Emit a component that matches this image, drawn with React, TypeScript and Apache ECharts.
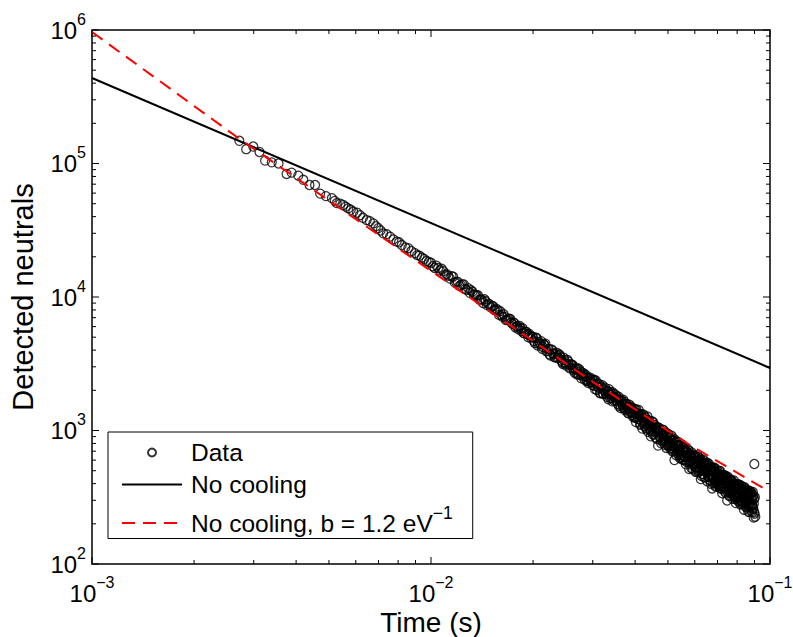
import React, { useEffect, useRef } from "react";
import * as echarts from "echarts";

const FONT = '"Liberation Sans", Arial, Helvetica, sans-serif';

// ---- Data (time in ms, detected neutrals) ----
const earlyTimesMs = [
  2.72, 2.85, 2.99, 3.12, 3.24, 3.39, 3.55, 3.75, 3.88, 4.06,
  4.2, 4.38, 4.55, 4.71, 4.9, 5.1, 5.2, 5.27, 5.4, 5.51,
  5.6, 5.7, 5.8, 5.9, 6.05, 6.17, 6.3, 6.46, 6.6, 6.76,
  6.88, 6.99, 7.1, 7.23, 7.4, 7.57, 7.75, 7.92, 8.05, 8.2,
  8.4, 8.57, 8.75, 8.97, 9.1, 9.25, 9.4, 9.55, 9.7, 9.85,
];
const earlyCounts = [
  148000, 128000, 134000, 122000, 105000, 102000, 100000, 83500, 85500, 81000,
  75500, 69000, 69000, 59500, 57000, 55000, 52500, 50500, 50000, 48900,
  47500, 46100, 45000, 43500, 42800, 41000, 39200, 37700, 37000, 35600,
  33900, 32800, 31500, 30000, 29600, 28300, 27000, 26000, 25700, 24500,
  23500, 23200, 22100, 21300, 20600, 20400, 19700, 19300, 18600, 18300,
];

const band10TimesMs = [
  10, 10.25, 10.5, 10.75, 11, 11.25, 11.5, 11.75, 12, 12.25, 12.5, 12.75,
  13, 13.25, 13.5, 13.75, 14, 14.25, 14.5, 14.75, 15, 15.25, 15.5, 15.75,
  16, 16.25, 16.5, 16.75, 17, 17.25, 17.5, 17.75, 18, 18.25, 18.5, 18.75,
  19, 19.25, 19.5, 19.75,
];
const band10Counts = [
  18054, 16505, 16493, 16271, 14661, 14429, 14315, 12831, 12963, 12274, 12438, 11293,
  10753, 10949, 10382, 10331, 9581, 9015, 9286, 8905, 8359, 8526, 7946, 7928,
  7822, 7093, 7103, 6756, 6886, 6444, 6460, 5910, 6040, 6064, 5567, 5366,
  5490, 5254, 5280, 4898,
];
const band10bTimesMs = [
  10.125, 10.375, 10.625, 10.875, 11.125, 11.375, 11.625, 11.875, 12.125, 12.375, 12.625, 12.875,
  13.125, 13.375, 13.625, 13.875, 14.125, 14.375, 14.625, 14.875, 15.125, 15.375, 15.625, 15.875,
  16.125, 16.375, 16.625, 16.875, 17.125, 17.375, 17.625, 17.875, 18.125, 18.375, 18.625, 18.875,
  19.125, 19.375, 19.625, 19.875,
];
const band10bCounts = [
  17011, 17173, 15828, 15609, 14841, 13738, 14177, 12970, 12111, 12423, 11507, 11644,
  11237, 10452, 10308, 9558, 9535, 9618, 8692, 8847, 8572, 7989, 8136, 7341,
  7343, 7424, 6719, 6857, 6861, 6293, 6369, 6007, 5728, 5814, 5830, 5348,
  5478, 4982, 5113, 5033,
];

const band20TimesMs = [
  20, 20.25, 20.5, 20.75, 21, 21.25, 21.5, 21.75, 22, 22.25, 22.5, 22.75,
  23, 23.25, 23.5, 23.75, 24, 24.25, 24.5, 24.75, 25, 25.25, 25.5, 25.75,
  26, 26.25, 26.5, 26.75, 27, 27.25, 27.5, 27.75, 28, 28.25, 28.5, 28.75,
  29, 29.25, 29.5, 29.75,
];
const band20Counts = [
  5016, 4527, 4940, 4464, 4495, 4097, 4438, 4467, 3961, 4083, 3647, 4034,
  3761, 3542, 3835, 3512, 3649, 3344, 3148, 3384, 3061, 3385, 3137, 2956,
  3109, 2908, 2712, 2890, 2948, 2625, 2768, 2455, 2541, 2679, 2534, 2344,
  2498, 2315, 2490, 2311,
];
const band20bTimesMs = [
  20.125, 20.375, 20.625, 20.875, 21.125, 21.375, 21.625, 21.875, 22.125, 22.375, 22.625, 22.875,
  23.125, 23.375, 23.625, 23.875, 24.125, 24.375, 24.625, 24.875, 25.125, 25.375, 25.625, 25.875,
  26.125, 26.375, 26.625, 26.875, 27.125, 27.375, 27.625, 27.875, 28.125, 28.375, 28.625, 28.875,
  29.125, 29.375, 29.625, 29.875,
];
const band20bCounts = [
  4673, 4949, 4332, 4593, 4668, 4226, 4348, 3923, 4083, 3724, 4037, 3763,
  3539, 3727, 3475, 3722, 3546, 3245, 3516, 3189, 3161, 3292, 2922, 3109,
  3111, 2824, 2916, 2639, 2648, 2874, 2611, 2722, 2623, 2404, 2612, 2373,
  2262, 2439, 2307, 2407,
];

const band30TimesMs = [
  30, 30.25, 30.5, 30.75, 31, 31.25, 31.5, 31.75, 32, 32.25, 32.5, 32.75,
  33, 33.25, 33.5, 33.75, 34, 34.25, 34.5, 34.75, 35, 35.25, 35.5, 35.75,
  36, 36.25, 36.5, 36.75, 37, 37.25, 37.5, 37.75, 38, 38.25, 38.5, 38.75,
  39, 39.25, 39.5, 39.75,
];
const band30Counts = [
  2182, 2398, 2032, 2221, 2252, 2095, 1898, 2139, 2189, 1880, 1994, 1889,
  1786, 1952, 2039, 1754, 1857, 1654, 1883, 1771, 1695, 1792, 1583, 1793,
  1702, 1471, 1642, 1557, 1473, 1638, 1466, 1580, 1486, 1351, 1564, 1359,
  1482, 1353, 1255, 1387,
];
const band30bTimesMs = [
  30.125, 30.375, 30.625, 30.875, 31.125, 31.375, 31.625, 31.875, 32.125, 32.375, 32.625, 32.875,
  33.125, 33.375, 33.625, 33.875, 34.125, 34.375, 34.625, 34.875, 35.125, 35.375, 35.625, 35.875,
  36.125, 36.375, 36.625, 36.875, 37.125, 37.375, 37.625, 37.875, 38.125, 38.375, 38.625, 38.875,
  39.125, 39.375, 39.625, 39.875,
];
const band30bCounts = [
  2370, 2158, 2368, 2010, 2109, 2227, 1905, 2103, 1893, 2027, 2097, 1856,
  1984, 1714, 1877, 1943, 1756, 1930, 1676, 1776, 1838, 1661, 1722, 1517,
  1545, 1701, 1567, 1703, 1572, 1415, 1576, 1437, 1345, 1502, 1397, 1505,
  1432, 1304, 1464, 1259,
];

const band40TimesMs = [
  40, 40.25, 40.5, 40.75, 41, 41.25, 41.5, 41.75, 42, 42.25, 42.5, 42.75,
  43, 43.25, 43.5, 43.75, 44, 44.25, 44.5, 44.75, 45, 45.25, 45.5, 45.75,
  46, 46.25, 46.5, 46.75, 47, 47.25, 47.5, 47.75, 48, 48.25, 48.5, 48.75,
  49, 49.25, 49.5, 49.75, 50, 50.25, 50.5, 50.75, 51, 51.25, 51.5, 51.75,
  52, 52.25, 52.5, 52.75, 53, 53.25, 53.5, 53.75, 54, 54.25, 54.5, 54.75,
  55, 55.25, 55.5, 55.75, 56, 56.25, 56.5, 56.75, 57, 57.25, 57.5, 57.75,
  58, 58.25, 58.5, 58.75, 59, 59.25, 59.5, 59.75,
];
const band40Counts = [
  1436, 1155, 1336, 1216, 1427, 1223, 1121, 1290, 1033, 1234, 1301, 1077,
  1166, 1017, 1273, 1070, 1188, 1013, 905, 1106, 1030, 1152, 937, 1036,
  886, 1053, 984, 770, 1047, 904, 988, 802, 948, 822, 1009, 866,
  813, 962, 740, 895, 946, 811, 886, 737, 770, 914, 699, 802,
  840, 601, 786, 831, 680, 777, 703, 819, 724, 618, 767, 655,
  787, 629, 705, 598, 646, 726, 557, 688, 688, 632, 708, 514,
  559, 647, 580, 684, 618, 512, 643, 573,
];
const band40bTimesMs = [
  40.125, 40.375, 40.625, 40.875, 41.125, 41.375, 41.625, 41.875, 42.125, 42.375, 42.625, 42.875,
  43.125, 43.375, 43.625, 43.875, 44.125, 44.375, 44.625, 44.875, 45.125, 45.375, 45.625, 45.875,
  46.125, 46.375, 46.625, 46.875, 47.125, 47.375, 47.625, 47.875, 48.125, 48.375, 48.625, 48.875,
  49.125, 49.375, 49.625, 49.875, 50.125, 50.375, 50.625, 50.875, 51.125, 51.375, 51.625, 51.875,
  52.125, 52.375, 52.625, 52.875, 53.125, 53.375, 53.625, 53.875, 54.125, 54.375, 54.625, 54.875,
  55.125, 55.375, 55.625, 55.875, 56.125, 56.375, 56.625, 56.875, 57.125, 57.375, 57.625, 57.875,
  58.125, 58.375, 58.625, 58.875, 59.125, 59.375, 59.625, 59.875,
];
const band40bCounts = [
  1243, 1436, 1262, 1335, 1293, 1104, 1322, 1161, 1325, 1120, 1153, 1254,
  1045, 1190, 977, 1119, 1138, 1082, 985, 1172, 931, 1064, 1103, 971,
  1059, 862, 987, 1053, 909, 1012, 844, 926, 1016, 844, 915, 782,
  879, 837, 942, 781, 765, 882, 790, 904, 838, 718, 845, 766,
  720, 858, 736, 653, 817, 729, 772, 656, 700, 764, 623, 721,
  605, 701, 749, 636, 703, 604, 659, 581, 634, 718, 591, 655,
  674, 588, 523, 615, 562, 652, 570, 624,
];

const band60TimesMs = [
  60, 60.25, 60.5, 60.75, 61, 61.25, 61.5, 61.75, 62, 62.25, 62.5, 62.75,
  63, 63.25, 63.5, 63.75, 64, 64.25, 64.5, 64.75, 65, 65.25, 65.5, 65.75,
  66, 66.25, 66.5, 66.75, 67, 67.25, 67.5, 67.75, 68, 68.25, 68.5, 68.75,
  69, 69.25, 69.5, 69.75, 70, 70.25, 70.5, 70.75, 71, 71.25, 71.5, 71.75,
  72, 72.25, 72.5, 72.75, 73, 73.25, 73.5, 73.75, 74, 74.25, 74.5, 74.75,
  75, 75.25, 75.5, 75.75, 76, 76.25, 76.5, 76.75, 77, 77.25, 77.5, 77.75,
  78, 78.25, 78.5, 78.75, 79, 79.25, 79.5, 79.75, 80, 80.25, 80.5, 80.75,
  81, 81.25, 81.5, 81.75, 82, 82.25, 82.5, 82.75, 83, 83.25, 83.5, 83.75,
  84, 84.25, 84.5, 84.75, 85, 85.25, 85.5, 85.75, 86, 86.25, 86.5, 86.75,
  87, 87.25, 87.5, 87.75, 88, 88.25, 88.5, 88.75, 89, 89.25, 89.5, 89.75,
  90, 90.25, 90.5, 89.9,
];
const band60Counts = [
  644, 490, 595, 528, 654, 543, 489, 596, 499, 615, 432, 548,
  565, 472, 605, 502, 446, 562, 502, 570, 520, 417, 548, 465,
  561, 450, 423, 506, 469, 528, 368, 502, 508, 440, 529, 402,
  381, 469, 452, 406, 501, 396, 464, 422, 376, 498, 396, 437,
  455, 339, 466, 397, 378, 429, 349, 461, 409, 355, 432, 299,
  450, 366, 383, 412, 326, 419, 345, 392, 420, 362, 308, 391,
  341, 423, 319, 365, 391, 286, 373, 319, 338, 396, 296, 375,
  393, 316, 349, 279, 301, 357, 385, 317, 345, 284, 361, 255,
  377, 305, 283, 343, 290, 353, 265, 324, 354, 246, 329, 297,
  267, 330, 350, 273, 331, 249, 307, 276, 346, 260, 223, 307,
  238, 316, 226, 561,
];
const band60bTimesMs = [
  60.125, 60.375, 60.625, 60.875, 61.125, 61.375, 61.625, 61.875, 62.125, 62.375, 62.625, 62.875,
  63.125, 63.375, 63.625, 63.875, 64.125, 64.375, 64.625, 64.875, 65.125, 65.375, 65.625, 65.875,
  66.125, 66.375, 66.625, 66.875, 67.125, 67.375, 67.625, 67.875, 68.125, 68.375, 68.625, 68.875,
  69.125, 69.375, 69.625, 69.875, 70.125, 70.375, 70.625, 70.875, 71.125, 71.375, 71.625, 71.875,
  72.125, 72.375, 72.625, 72.875, 73.125, 73.375, 73.625, 73.875, 74.125, 74.375, 74.625, 74.875,
  75.125, 75.375, 75.625, 75.875, 76.125, 76.375, 76.625, 76.875, 77.125, 77.375, 77.625, 77.875,
  78.125, 78.375, 78.625, 78.875, 79.125, 79.375, 79.625, 79.875, 80.125, 80.375, 80.625, 80.875,
  81.125, 81.375, 81.625, 81.875, 82.125, 82.375, 82.625, 82.875, 83.125, 83.375, 83.625, 83.875,
  84.125, 84.375, 84.625, 84.875, 85.125, 85.375, 85.625, 85.875, 86.125, 86.375, 86.625, 86.875,
  87.125, 87.375, 87.625, 87.875, 88.125, 88.375, 88.625, 88.875, 89.125, 89.375, 89.625, 89.875,
];
const band60bCounts = [
  532, 643, 490, 583, 590, 502, 632, 517, 601, 526, 571, 455,
  473, 570, 498, 589, 553, 447, 566, 502, 483, 575, 452, 524,
  500, 429, 528, 399, 529, 441, 490, 402, 441, 521, 413, 492,
  516, 441, 380, 466, 415, 479, 384, 498, 465, 368, 438, 384,
  365, 446, 398, 461, 451, 374, 458, 394, 340, 413, 367, 435,
  413, 345, 440, 323, 371, 426, 348, 395, 423, 353, 377, 324,
  329, 393, 308, 396, 372, 310, 398, 332, 390, 318, 365, 298,
  320, 393, 303, 349, 367, 282, 357, 323, 291, 345, 302, 372,
  334, 291, 363, 266, 273, 339, 299, 345, 337, 277, 355, 246,
  288, 342, 264, 314, 342, 275, 244, 315, 266, 326, 283, 244,
];

// Model curves (time in s, neutrals)
const noCoolingTimes = [0.001, 0.1];
const noCoolingCounts = [437000, 2938];
const slowCoolingTimes = [0.001, 0.0027, 0.01, 0.02944, 0.05808, 0.1];
const slowCoolingCounts = [966000, 155300, 15660, 2388, 778, 346];

// Axis ticks
const xMajorTicks = [0.001, 0.01, 0.1];
const xMinorTicks = [
  0.002, 0.003, 0.004, 0.005, 0.006, 0.007, 0.008, 0.009,
  0.02, 0.03, 0.04, 0.05, 0.06, 0.07, 0.08, 0.09,
];
const yMajorTicks = [1e2, 1e3, 1e4, 1e5, 1e6];
const yMinorTicks = [
  200, 300, 400, 500, 600, 700, 800, 900,
  2000, 3000, 4000, 5000, 6000, 7000, 8000, 9000,
  20000, 30000, 40000, 50000, 60000, 70000, 80000, 90000,
  200000, 300000, 400000, 500000, 600000, 700000, 800000, 900000,
];

const legendNames = ["Data", "No cooling", "No cooling, b = 1.2 eV^-1"];

function zip(ts: number[], ns: number[]): number[][] {
  return ts.map((t, i) => [t / 1000, ns[i]]);
}

function expLabel(v: number): string {
  const e = Math.round(Math.log10(v));
  const s = e < 0 ? "\u2212" + Math.abs(e) : String(e);
  return `{b|10}{s|${s}}`;
}

const labelRich = {
  b: { fontSize: 24, lineHeight: 38, verticalAlign: "middle", color: "#000", fontFamily: FONT },
  s: { fontSize: 16, lineHeight: 16, verticalAlign: "top", color: "#000", fontFamily: FONT },
};

function tickSeries(values: number[], axis: "x" | "y", len: number) {
  return {
    type: "custom",
    silent: true,
    z: 6,
    clip: false,
    data: values.map((v) => (axis === "x" ? [v, 1000] : [0.01, v])),
    encode: { x: 0, y: 1 },
    renderItem: (params: any, api: any) => {
      const cs = params.coordSys;
      const style = { stroke: "#000", lineWidth: 1 };
      if (axis === "x") {
        const px = api.coord([api.value(0), 1000])[0];
        const b = cs.y + cs.height;
        const t = cs.y;
        return {
          type: "group",
          children: [
            { type: "line", shape: { x1: px, y1: b, x2: px, y2: b - len }, style },
            { type: "line", shape: { x1: px, y1: t, x2: px, y2: t + len }, style },
          ],
        };
      }
      const py = api.coord([0.01, api.value(1)])[1];
      const l = cs.x;
      const r = cs.x + cs.width;
      return {
        type: "group",
        children: [
          { type: "line", shape: { x1: l, y1: py, x2: l + len, y2: py }, style },
          { type: "line", shape: { x1: r, y1: py, x2: r - len, y2: py }, style },
        ],
      };
    },
  };
}

export default function App() {
  const ref = useRef<HTMLDivElement>(null);

  useEffect(() => {
    if (!ref.current) return;
    const chart = echarts.init(ref.current, undefined, { renderer: "svg" });

    const dataPoints = [
      ...zip(earlyTimesMs, earlyCounts),
      ...zip(band10TimesMs, band10Counts),
      ...zip(band10bTimesMs, band10bCounts),
      ...zip(band20TimesMs, band20Counts),
      ...zip(band20bTimesMs, band20bCounts),
      ...zip(band30TimesMs, band30Counts),
      ...zip(band30bTimesMs, band30bCounts),
      ...zip(band40TimesMs, band40Counts),
      ...zip(band40bTimesMs, band40bCounts),
      ...zip(band60TimesMs, band60Counts),
      ...zip(band60bTimesMs, band60bCounts),
    ];
    const noCooling = noCoolingTimes.map((t, i) => [t, noCoolingCounts[i]]);
    const slowCooling = slowCoolingTimes.map((t, i) => [t, slowCoolingCounts[i]]);

    const hiddenSymbol = { color: "rgba(0,0,0,0)", borderWidth: 0, opacity: 0 };

    const option: any = {
      animation: false,
      backgroundColor: "#fff",
      textStyle: { fontFamily: FONT },
      grid: {
        left: 92,
        top: 30,
        right: 23,
        bottom: 73,
        show: true,
        borderColor: "#000",
        borderWidth: 1.5,
        backgroundColor: "transparent",
        containLabel: false,
        outerBoundsMode: "none",
      },
      xAxis: {
        type: "log",
        logBase: 10,
        min: 0.001,
        max: 0.1,
        name: "Time (s)",
        nameLocation: "middle",
        nameGap: 44,
        nameMoveOverlap: false,
        nameTextStyle: { fontSize: 28, color: "#000", fontFamily: FONT },
        axisLine: { show: false },
        axisTick: { show: false },
        minorTick: { show: false },
        splitLine: { show: false },
        axisLabel: {
          margin: 10,
          formatter: expLabel,
          rich: labelRich,
          showMinLabel: true,
          showMaxLabel: true,
          alignMinLabel: "center",
          alignMaxLabel: "center",
        },
      },
      yAxis: {
        type: "log",
        logBase: 10,
        min: 100,
        max: 1e6,
        name: "Detected neutrals",
        nameLocation: "middle",
        nameGap: 55,
        nameMoveOverlap: false,
        nameTextStyle: { fontSize: 29, color: "#000", fontFamily: FONT },
        axisLine: { show: false },
        axisTick: { show: false },
        minorTick: { show: false },
        splitLine: { show: false },
        axisLabel: {
          margin: 6,
          formatter: expLabel,
          rich: labelRich,
          showMinLabel: true,
          showMaxLabel: true,
          verticalAlignMinLabel: "middle",
          verticalAlignMaxLabel: "middle",
        },
      },
      legend: {
        data: [
          { name: legendNames[0] },
          { name: legendNames[1], itemStyle: hiddenSymbol },
          { name: legendNames[2], itemStyle: hiddenSymbol },
        ],
        orient: "vertical",
        left: 108,
        top: 432,
        padding: [8, 20, 3, 13],
        itemGap: 7,
        itemWidth: 60,
        itemHeight: 8,
        borderColor: "#000",
        borderWidth: 1,
        borderRadius: 0,
        backgroundColor: "#fff",
        selectedMode: false,
        formatter: (name: string) =>
          name === legendNames[2]
            ? "{b3|No cooling, b = 1.2 eV}{s|\u22121}"
            : `{b|${name}}`,
        textStyle: {
          color: "#000",
          fontSize: 24.5,
          fontFamily: FONT,
          padding: [0, 0, 0, 4],
          rich: {
            b: { fontSize: 24.5, lineHeight: 24, color: "#000", fontFamily: FONT },
            b3: { fontSize: 24.5, lineHeight: 38, verticalAlign: "middle", color: "#000", fontFamily: FONT },
            s: { fontSize: 17.5, lineHeight: 18, verticalAlign: "top", color: "#000", fontFamily: FONT },
          },
        },
      },
      series: [
        {
          name: legendNames[0],
          type: "scatter",
          data: dataPoints,
          symbol: "circle",
          symbolSize: 9,
          silent: true,
          z: 3,
          itemStyle: { color: "rgba(0,0,0,0)", borderColor: "#000", borderWidth: 1.25 },
          emphasis: { disabled: true },
        },
        {
          name: legendNames[1],
          type: "line",
          data: noCooling,
          symbol: "none",
          silent: true,
          z: 2,
          lineStyle: { color: "#000", width: 2 },
          itemStyle: { color: "#000" },
        },
        {
          name: legendNames[2],
          type: "line",
          data: slowCooling,
          symbol: "none",
          silent: true,
          z: 4,
          lineStyle: { color: "#ff0000", width: 2, type: [13, 8] },
          itemStyle: { color: "#ff0000" },
        },
        tickSeries(xMajorTicks, "x", 7),
        tickSeries(xMinorTicks, "x", 4),
        tickSeries(yMajorTicks, "y", 7),
        tickSeries(yMinorTicks, "y", 4),
      ],
    };

    chart.setOption(option);
    return () => chart.dispose();
  }, []);

  return (
    <div
      ref={ref}
      style={{ position: "absolute", left: 0, top: 0, width: 793, height: 637, background: "#fff" }}
    />
  );
}
